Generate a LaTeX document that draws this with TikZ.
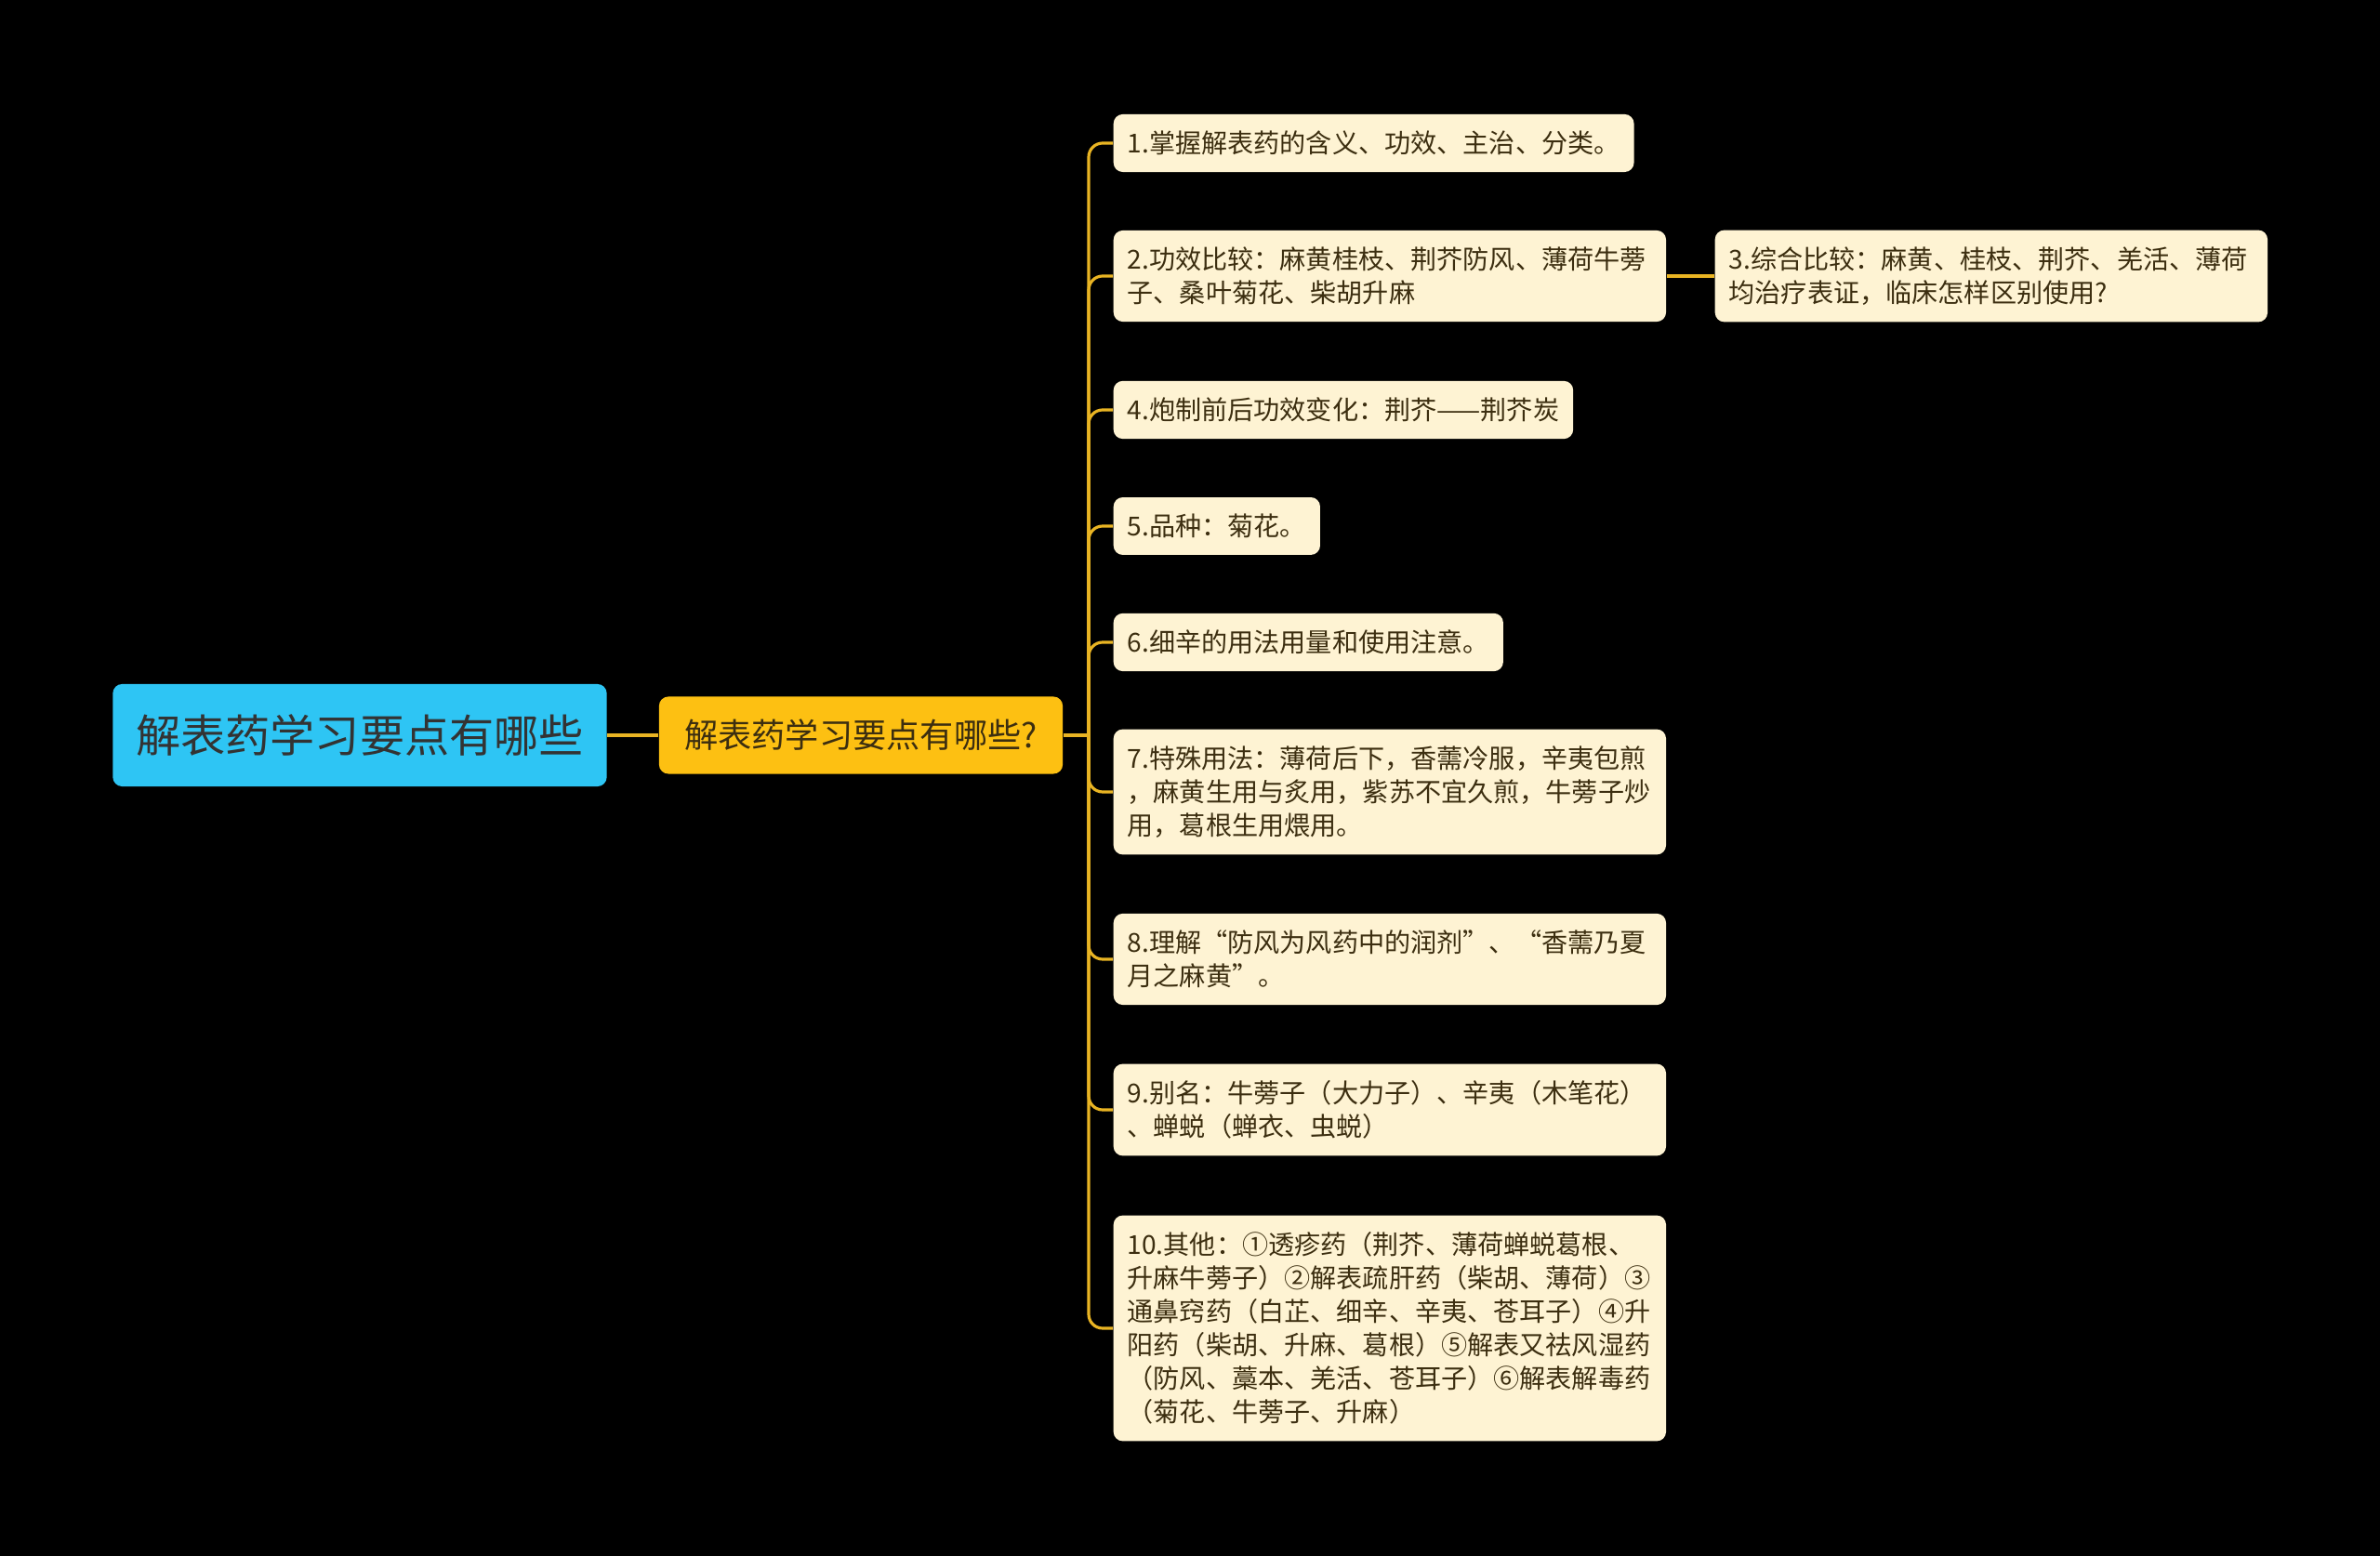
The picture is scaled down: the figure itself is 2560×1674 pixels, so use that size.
\documentclass[tikz,border=0pt]{standalone}
\usepackage{fontspec}
\setmainfont{Noto Sans CJK SC}
\definecolor{rootblue}{HTML}{2EC5F4}
\definecolor{topicgold}{HTML}{FDC012}
\definecolor{leafcream}{HTML}{FEF3D3}
\definecolor{linkgold}{HTML}{E9B423}
\definecolor{leaftext}{HTML}{3C2E10}

\begin{document}
\begin{tikzpicture}
  [x=0.01cm,y=-0.01cm,
   rootbox/.style={fill=rootblue,rounded corners=0.1cm,minimum width=5.31cm,
     minimum height=1.1cm,font=\fontsize{13.7}{16}\selectfont,text=black!80},
   topicbox/.style={fill=topicgold,rounded corners=0.1cm,minimum width=4.34cm,
     minimum height=0.83cm,font=\fontsize{10.3}{12}\selectfont,text=leaftext},
   leafbox/.style={fill=leafcream,rounded corners=0.1cm,anchor=west,
     inner xsep=0.15cm,inner ysep=0.18cm,align=left,
     font=\fontsize{8}{10.24}\selectfont,text=leaftext},
   widebox/.style={leafbox,text width=5.64cm},
   link/.style={draw=linkgold,line width=0.9pt}]
  \fill[black] (0,0) rectangle (2560,1674);

  \node[rootbox] (root) at (387,791) {解表药学习要点有哪些};
  \node[topicbox] (topic) at (926,791) {解表药学习要点有哪些?};
  \coordinate (spine) at (1171,791);

  \node[leafbox] (n1) at (1197,154) {1.掌握解表药的含义、功效、主治、分类。};
  \node[widebox] (n2) at (1197,297) {2.功效比较：麻黄桂枝、荆芥防风、薄荷牛蒡\\子、桑叶菊花、柴胡升麻};
  \node[widebox] (n3) at (1844,297) {3.综合比较：麻黄、桂枝、荆芥、羌活、薄荷\\均治疗表证，临床怎样区别使用?};
  \node[leafbox] (n4) at (1197,441) {4.炮制前后功效变化：荆芥——荆芥炭};
  \node[leafbox] (n5) at (1197,566) {5.品种：菊花。};
  \node[leafbox] (n6) at (1197,691) {6.细辛的用法用量和使用注意。};
  \node[widebox] (n7) at (1197,852) {7.特殊用法：薄荷后下，香薷冷服，辛夷包煎\\，麻黄生用与炙用，紫苏不宜久煎，牛蒡子炒\\用，葛根生用煨用。};
  \node[widebox] (n8) at (1197,1032) {8.理解“防风为风药中的润剂”、“香薷乃夏\\月之麻黄”。};
  \node[widebox] (n9) at (1197,1194) {9.别名：牛蒡子（大力子）、辛夷（木笔花）\\、蝉蜕（蝉衣、虫蜕）};
  \node[widebox] (n10) at (1197,1429) {10.其他：①透疹药（荆芥、薄荷蝉蜕葛根、\\升麻牛蒡子）②解表疏肝药（柴胡、薄荷）③\\通鼻窍药（白芷、细辛、辛夷、苍耳子）④升\\阳药（柴胡、升麻、葛根）⑤解表又祛风湿药\\（防风、藁本、羌活、苍耳子）⑥解表解毒药\\（菊花、牛蒡子、升麻）};

  % links
  \draw[link] (root.east) -- (topic.west);
  \draw[link] (topic.east) -- (spine);
  \foreach \leaf in {n1,n2,n4,n5,n6,n7,n8,n9,n10}
    \draw[link,rounded corners=0.15cm] (spine) |- (\leaf.west);
  \draw[link] (n2.east) -- (n3.west);
\end{tikzpicture}
\end{document}
